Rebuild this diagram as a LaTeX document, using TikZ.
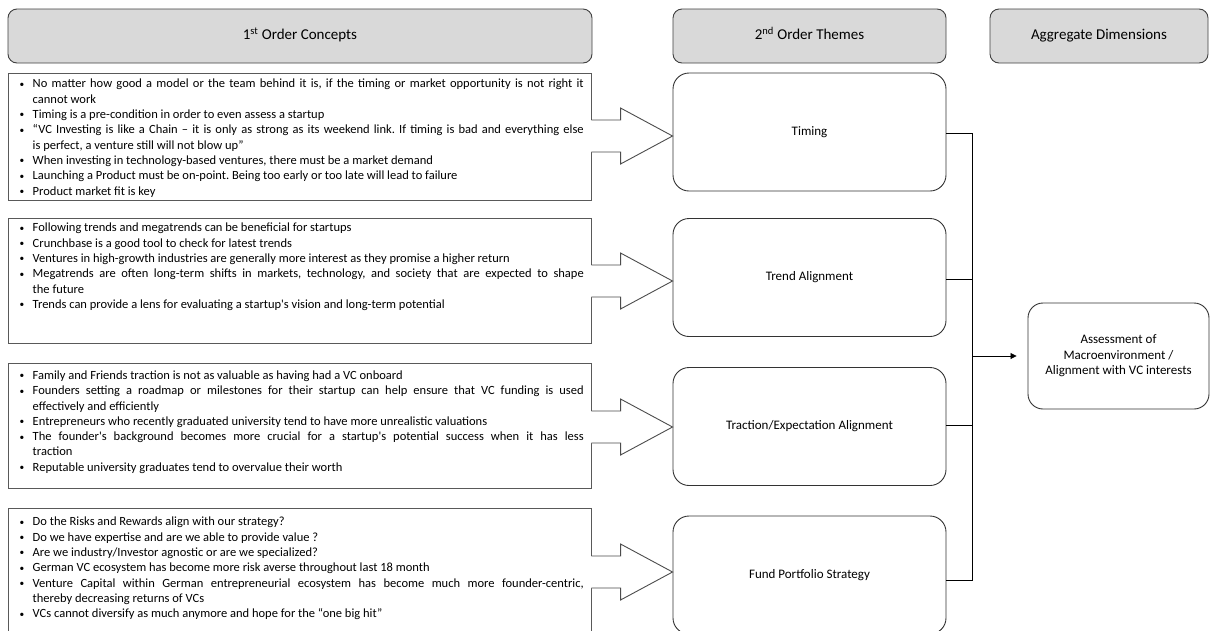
\documentclass[tikz,border=0pt]{standalone}
\usepackage{fontspec}
\setmainfont{Carlito}[Ligatures=TeXOff]
\usetikzlibrary{calc,arrows.meta}
\frenchspacing
\tikzset{
  hdr/.style={draw=black!75, fill=black!15, rounded corners=9pt, line width=0.9pt,
    minimum height=54pt, inner sep=0pt, text height=10pt, text depth=3.5pt,
    font=\fontsize{15}{17}\selectfont},
  theme/.style={draw=black!80, fill=white, rounded corners=16pt, line width=0.9pt,
    minimum width=273pt, minimum height=118pt, inner sep=0pt, font=\fontsize{13}{15.5}\selectfont},
  conbox/.style={draw=black!65, line width=0.9pt, minimum width=583pt, inner sep=0pt},
  txt/.style={anchor=north west, inner sep=0pt, font=\fontsize{12.5}{15.3}\selectfont},
  arr/.style={draw=black!70, line width=0.9pt},
  con/.style={draw=black, line width=0.8pt},
}
\newcommand\bl[1]{\par\hangindent=13pt\hangafter=1\noindent\makebox[13pt][l]{\raisebox{0.6pt}{\scalebox{0.75}{\textbullet}}}#1}
\newcommand\blockarrow[4]{%
  \coordinate (tip#4) at ($(#2.west)+(0,#3)$);
  \coordinate (tail#4) at (#1.east |- tip#4);
  \fill[white] ($(tail#4)+(-1.2,-16)$) -- ($(tip#4)+(-52,-16)$) -- ($(tip#4)+(-52,-28)$) -- (tip#4)
     -- ($(tip#4)+(-52,28)$) -- ($(tip#4)+(-52,16)$) -- ($(tail#4)+(-1.2,16)$) -- cycle;
  \draw[arr, line join=miter] ($(tail#4)+(0,-16)$) -- ($(tip#4)+(-52,-16)$) -- ($(tip#4)+(-52,-28)$) -- (tip#4)
     -- ($(tip#4)+(-52,28)$) -- ($(tip#4)+(-52,16)$) -- ($(tail#4)+(0,16)$);
}
\begin{document}
\begin{tikzpicture}[x=1pt,y=-1pt]
\useasboundingbox (0,0) rectangle (1210,630);
\clip (0,0) rectangle (1210,630);
\fill[white] (0,0) rectangle (1210,630);

% headers
\node[hdr, minimum width=584pt] (h1) at (300,36) {1\textsuperscript{st} Order Concepts};
\node[hdr, minimum width=273pt] (h2) at (809.5,36) {2\textsuperscript{nd} Order Themes};
\node[hdr, minimum width=218pt] (h3) at (1099,36) {Aggregate Dimensions};

% concept boxes
\node[conbox, minimum height=127pt] (b1) at (299.5,136.5) {};
\node[conbox, minimum height=125pt] (b2) at (299.5,280.5) {};
\node[conbox, minimum height=125pt] (b3) at (299.5,425.5) {};
\node[conbox, minimum height=134pt] (b4) at (299.5,575) {};

\node[txt] (t1) at ($(b1.north west)+(12,6.5)$) {\parbox[t]{564pt}{%
\bl{No matter how good a model or the team behind it is, if the timing or market opportunity is not right it\linebreak cannot work}
\bl{Timing is a pre-condition in order to even assess a startup}
\bl{“VC Investing is like a Chain – it is only as strong as its weekend link. If timing is bad and everything else\linebreak is perfect, a venture still will not blow up”}
\bl{When investing in technology-based ventures, there must be a market demand}
\bl{Launching a Product must be on-point. Being too early or too late will lead to failure}
\bl{Product market fit is key}}};

\node[txt] (t2) at ($(b2.north west)+(12,5.5)$) {\parbox[t]{564pt}{%
\bl{Following trends and megatrends can be beneficial for startups}
\bl{Crunchbase is a good tool to check for latest trends}
\bl{Ventures in high-growth industries are generally more interest as they promise a higher return}
\bl{Megatrends are often long-term shifts in markets, technology, and society that are expected to shape\linebreak the future}
\bl{Trends can provide a lens for evaluating a startup's vision and long-term potential}}};

\node[txt] (t3) at ($(b3.north west)+(12,8)$) {\parbox[t]{564pt}{%
\bl{Family and Friends traction is not as valuable as having had a VC onboard}
\bl{Founders setting a roadmap or milestones for their startup can help ensure that VC funding is used\linebreak effectively and efficiently}
\bl{Entrepreneurs who recently graduated university tend to have more unrealistic valuations}
\bl{The founder's background becomes more crucial for a startup's potential success when it has less\linebreak traction}
\bl{Reputable university graduates tend to overvalue their worth}}};

\node[txt] (t4) at ($(b4.north west)+(12,9.5)$) {\parbox[t]{564pt}{%
\bl{Do the Risks and Rewards align with our strategy?}
\bl{Do we have expertise and are we able to provide value ?}
\bl{Are we industry/Investor agnostic or are we specialized?}
\bl{German VC ecosystem has become more risk averse throughout last 18 month}
\bl{Venture Capital within German entrepreneurial ecosystem has become much more founder-centric,\linebreak thereby decreasing returns of VCs}
\bl{VCs cannot diversify as much anymore and hope for the “one big hit”}}};

% themes
\node[theme] (th1) at (809.5,132) {Timing};
\node[theme] (th2) at (809.5,277.5) {Trend Alignment};
\node[theme] (th3) at (809.5,426.5) {Traction/Expectation Alignment};
\node[theme] (th4) at (809.5,575) {Fund Portfolio Strategy};

% block arrows
\blockarrow{b1}{th1}{4}{a}
\blockarrow{b2}{th2}{3.5}{b}
\blockarrow{b3}{th3}{0.5}{c}
\blockarrow{b4}{th4}{-3}{d}

% aggregate
\node[draw=black!80, rounded corners=15pt, line width=0.9pt, minimum width=181pt, minimum height=106pt,
  align=center, inner sep=0pt, font=\fontsize{13}{15.5}\selectfont] (asm) at (1118.5,356)
  {Assessment of\\Macroenvironment /\\Alignment with VC interests};

% connectors
\coordinate (jt) at ($(th1.east)+(26,1)$);
\coordinate (jb) at ($(th4.east)+(26,5)$);
\draw[con] ($(th1.east)+(0,1)$) -- (jt) -- (jb) -- ($(th4.east)+(0,5)$);
\draw[con] ($(th2.east)+(0,1.5)$) -- ($(th2.east)+(26,1.5)$);
\draw[con] ($(th3.east)+(0,-1.5)$) -- ($(th3.east)+(26,-1.5)$);
\draw[con, -{Triangle[length=6pt,width=6pt]}, shorten >=11pt] (jt |- asm.west) -- (asm.west);
\end{tikzpicture}
\end{document}
